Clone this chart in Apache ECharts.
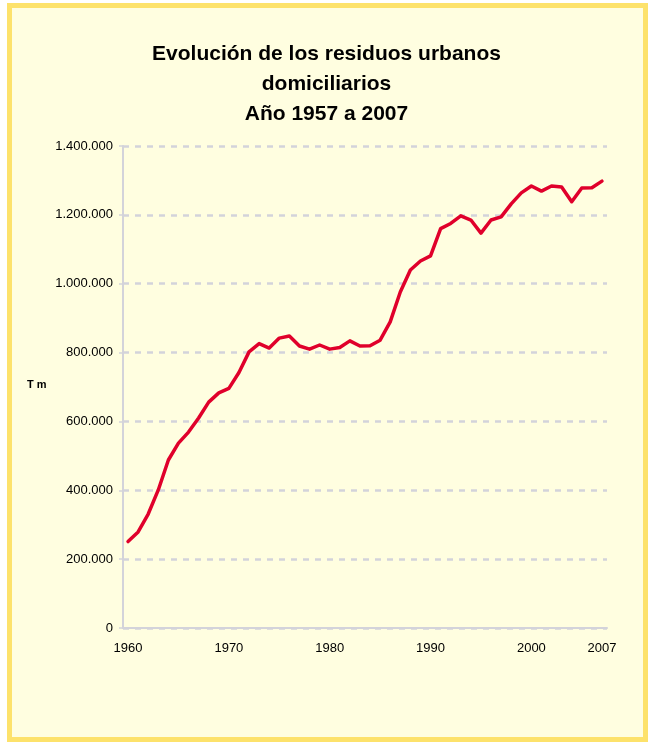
<!DOCTYPE html>
<html>
<head>
<meta charset="utf-8">
<script src="https://cdn.jsdelivr.net/npm/echarts@6/dist/echarts.min.js"></script>
<style>
    html, body {
        margin: 0;
        padding: 0;
        background: #fff;
    }
    .frame {
        position: absolute;
        left: 7px;
        top: 3px;
        width: 631px;
        height: 729px;
        border: 5px solid #fde26b;
        background: #fffee0;
    }
    #chart {
        position: absolute;
        left: 0;
        top: 0;
        width: 653px;
        height: 742px;
    }
</style>
</head>
<body>
<div class="frame"></div>
<div id="chart"></div>
<script>
// años del eje x
const years = []
for (let y = 1960; y <= 2007; y++) years.push(String(y))

// residuos urbanos domiciliarios (Tm)
const residuos = [
    251000, 279000, 331000, 401000, 488000, 537000, 569000, 610000, 656000, 683000,
    696000, 742000, 802000, 826000, 813000, 842000, 848000, 819000, 810000, 822000,
    810000, 815000, 834000, 819000, 820000, 836000, 889000, 976000, 1040000, 1066000,
    1081000, 1160000, 1175000, 1197000, 1185000, 1147000, 1185000, 1194000, 1232000, 1264000,
    1284000, 1269000, 1284000, 1281000, 1238000, 1278000, 1279000, 1298000
]

// años con etiqueta
const labelYears = ['1960', '1970', '1980', '1990', '2000', '2007']

const titleLines = ['Evolución de los residuos urbanos', 'domiciliarios', 'Año 1957 a 2007']

// 1400000 -> 1.400.000
const fmt = v => String(v).replace(/\B(?=(\d{3})+(?!\d))/g, '.')

const chart = echarts.init(document.getElementById('chart'))
chart.setOption({
    backgroundColor: 'transparent',
    textStyle: { fontFamily: 'Liberation Sans, Arial, sans-serif' },
    title: {
        text: titleLines.join('\n'),
        left: 'center',
        top: 34,
        textStyle: {
            fontSize: 21,
            fontWeight: 'bold',
            color: '#000',
            lineHeight: 30
        }
    },
    graphic: [
        {
            type: 'text',
            left: 27,
            top: 379,
            style: {
                text: 'T m',
                font: 'bold 11px Liberation Sans, Arial, sans-serif',
                fill: '#000'
            }
        }
    ],
    grid: {
        left: 123,
        right: 46,
        top: 146,
        bottom: 114
    },
    xAxis: {
        type: 'category',
        data: years,
        boundaryGap: true,
        axisLine: { lineStyle: { color: '#d3d3da', width: 2 } },
        axisTick: {
            interval: 0,
            length: 4,
            lineStyle: { color: '#d3d3da', width: 1.5 }
        },
        axisLabel: {
            interval: (i, v) => labelYears.includes(v),
            color: '#000',
            fontSize: 13,
            margin: 14
        },
        splitLine: { show: false }
    },
    yAxis: {
        type: 'value',
        min: 0,
        max: 1400000,
        interval: 200000,
        axisLine: { show: true, lineStyle: { color: '#d3d3da', width: 2 } },
        axisTick: { show: true, length: 4, lineStyle: { color: '#d3d3da', width: 1.5 } },
        axisLabel: {
            formatter: fmt,
            color: '#000',
            fontSize: 13,
            margin: 10
        },
        splitLine: {
            lineStyle: { color: '#d3d3da', width: 2.5, type: [6, 6] }
        }
    },
    series: [
        {
            type: 'line',
            data: residuos,
            symbol: 'none',
            smooth: false,
            lineStyle: { color: '#e0002b', width: 3.5, join: 'round', cap: 'round' }
        }
    ]
})
</script>
</body>
</html>
